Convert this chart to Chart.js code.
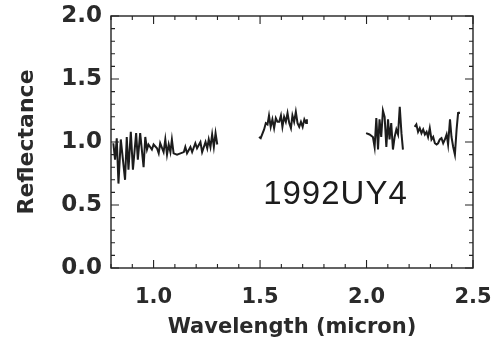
<!DOCTYPE html>
<html>
<head>
<meta charset="utf-8">
<script src="https://cdn.jsdelivr.net/npm/chart.js@4"></script>
<style>
  html, body { margin: 0; padding: 0; background: #fff; }
  #wrap { width: 498px; height: 346px; }
</style>
</head>
<body>
<div id="wrap"><canvas id="grafico" width="498" height="346"></canvas></div>
<script>
// espectro 1992UY4, quatro trechos
const trecho1Onda = [0.811, 0.819, 0.827, 0.835, 0.846, 0.866, 0.874, 0.882, 0.893, 0.903, 0.918, 0.926, 0.937, 0.953, 0.961, 0.969, 0.976, 0.992, 1.000, 1.016, 1.024, 1.031, 1.047, 1.055, 1.063, 1.071, 1.079, 1.086, 1.094, 1.110, 1.126, 1.142, 1.149, 1.157, 1.173, 1.181, 1.196, 1.204, 1.220, 1.228, 1.244, 1.252, 1.259, 1.267, 1.275, 1.283, 1.291, 1.299];
const trecho1Refl = [0.99, 0.86, 1.03, 0.67, 1.02, 0.70, 1.04, 0.78, 1.08, 0.78, 1.07, 0.86, 1.07, 0.80, 1.04, 0.94, 0.98, 0.94, 0.98, 0.95, 0.91, 0.99, 0.92, 1.02, 0.90, 0.98, 0.92, 1.02, 0.91, 0.90, 0.91, 0.92, 0.96, 0.91, 0.96, 0.92, 0.99, 0.95, 1.00, 0.92, 1.00, 0.95, 1.02, 0.96, 1.06, 0.96, 1.07, 0.98];

const trecho2Onda = [1.495, 1.503, 1.519, 1.527, 1.535, 1.542, 1.550, 1.558, 1.566, 1.574, 1.582, 1.590, 1.598, 1.605, 1.613, 1.621, 1.629, 1.637, 1.645, 1.652, 1.660, 1.668, 1.676, 1.684, 1.692, 1.700, 1.708, 1.716, 1.720];
const trecho2Refl = [1.04, 1.03, 1.10, 1.15, 1.14, 1.21, 1.12, 1.18, 1.11, 1.19, 1.16, 1.16, 1.21, 1.12, 1.20, 1.16, 1.23, 1.15, 1.11, 1.21, 1.16, 1.24, 1.15, 1.12, 1.16, 1.12, 1.18, 1.15, 1.18];

const trecho3Onda = [1.998, 2.014, 2.030, 2.038, 2.046, 2.054, 2.061, 2.069, 2.077, 2.085, 2.093, 2.101, 2.108, 2.116, 2.124, 2.132, 2.140, 2.148, 2.156, 2.164, 2.171];
const trecho3Refl = [1.07, 1.06, 1.04, 0.96, 1.19, 0.94, 1.18, 1.04, 1.25, 1.20, 0.96, 1.18, 1.02, 1.15, 0.94, 1.04, 1.10, 1.06, 1.28, 1.07, 0.94];

const trecho4Onda = [2.226, 2.234, 2.242, 2.250, 2.258, 2.266, 2.274, 2.282, 2.289, 2.297, 2.305, 2.313, 2.321, 2.329, 2.336, 2.344, 2.352, 2.360, 2.368, 2.376, 2.383, 2.392, 2.399, 2.407, 2.415, 2.423, 2.430, 2.434];
const trecho4Refl = [1.12, 1.14, 1.08, 1.11, 1.07, 1.10, 1.06, 1.08, 1.04, 1.11, 1.02, 1.04, 0.99, 0.98, 0.99, 1.02, 1.03, 0.99, 1.02, 1.06, 0.98, 1.18, 1.04, 0.96, 0.90, 1.10, 1.23, 1.24];

const ticksX = [1.0, 1.5, 2.0, 2.5];
const ticksY = [0.0, 0.5, 1.0, 1.5, 2.0];

const rotuloObjeto = "1992UY4";
const posRotulo = { x: 1.854, y: 0.58 };

function pontos(ondas, refl) {
  return ondas.map((o, i) => ({ x: o, y: refl[i] }));
}

function serie(ondas, refl) {
  return {
    data: pontos(ondas, refl),
    borderColor: "#1c1c1c",
    borderWidth: 2,
    pointRadius: 0,
    tension: 0,
    fill: false
  };
}

// moldura, tracinhos internos e o nome do objeto
const molduraPlugin = {
  id: "moldura",
  afterDatasetsDraw(chart) {
    const ctx = chart.ctx;
    const area = chart.chartArea;
    const sx = chart.scales.x;
    const sy = chart.scales.y;

    ctx.save();
    ctx.strokeStyle = "#222";
    ctx.lineWidth = 1.4;
    ctx.strokeRect(area.left, area.top, area.right - area.left, area.bottom - area.top);

    ctx.lineWidth = 1.1;
    ctx.beginPath();
    for (let i = 8; i <= 25; i++) {
      const px = sx.getPixelForValue(i / 10);
      const tam = i % 5 === 0 ? 8 : 4;
      ctx.moveTo(px, area.bottom);
      ctx.lineTo(px, area.bottom - tam);
      ctx.moveTo(px, area.top);
      ctx.lineTo(px, area.top + tam);
    }
    for (let i = 0; i <= 20; i++) {
      const py = sy.getPixelForValue(i / 10);
      const tam = i % 5 === 0 ? 8 : 4;
      ctx.moveTo(area.left, py);
      ctx.lineTo(area.left + tam, py);
      ctx.moveTo(area.right, py);
      ctx.lineTo(area.right - tam, py);
    }
    ctx.stroke();

    ctx.fillStyle = "#1c1c1c";
    ctx.font = "normal 33px 'Liberation Sans', Arial, sans-serif";
    ctx.textAlign = "center";
    ctx.textBaseline = "middle";
    ctx.letterSpacing = "1px";
    ctx.fillText(rotuloObjeto, sx.getPixelForValue(posRotulo.x), sy.getPixelForValue(posRotulo.y));
    ctx.restore();
  }
};

const canvas = document.getElementById("grafico");

new Chart(canvas, {
  type: "line",
  data: {
    datasets: [
      serie(trecho1Onda, trecho1Refl),
      serie(trecho2Onda, trecho2Refl),
      serie(trecho3Onda, trecho3Refl),
      serie(trecho4Onda, trecho4Refl)
    ]
  },
  options: {
    responsive: false,
    animation: false,
    layout: {
      padding: { top: 16, right: 25, left: 0, bottom: 0 }
    },
    plugins: {
      legend: { display: false },
      tooltip: { enabled: false }
    },
    scales: {
      x: {
        type: "linear",
        min: 0.8,
        max: 2.5,
        afterBuildTicks: scale => {
          scale.ticks = ticksX.map(v => ({ value: v }));
        },
        afterFit: scale => {
          scale.height = 78;
          scale.paddingLeft = 0;
          scale.paddingRight = 0;
        },
        grid: { display: false, drawTicks: false },
        border: { display: false },
        ticks: {
          padding: 17,
          color: "#2a2a2a",
          font: { family: "'DejaVu Sans', sans-serif", size: 21, weight: "bold" },
          callback: v => v.toFixed(1),
          maxRotation: 0
        },
        title: {
          display: true,
          text: "Wavelength (micron)",
          color: "#2a2a2a",
          font: { family: "'DejaVu Sans', sans-serif", size: 21, weight: "bold" },
          padding: { top: 0, bottom: 6 }
        }
      },
      y: {
        min: 0,
        max: 2,
        afterBuildTicks: scale => {
          scale.ticks = ticksY.map(v => ({ value: v }));
        },
        afterFit: scale => {
          scale.width = 111;
          scale.paddingTop = 0;
          scale.paddingBottom = 0;
        },
        grid: { display: false, drawTicks: false },
        border: { display: false },
        ticks: {
          padding: 9,
          color: "#2a2a2a",
          font: { family: "'DejaVu Sans', sans-serif", size: 23, weight: "bold" },
          callback: v => v.toFixed(1)
        },
        title: {
          display: true,
          text: "Reflectance",
          color: "#2a2a2a",
          font: { family: "'DejaVu Sans', sans-serif", size: 22, weight: "bold" },
          padding: { top: 14, bottom: 0 }
        }
      }
    }
  },
  plugins: [molduraPlugin]
});
</script>
</body>
</html>
